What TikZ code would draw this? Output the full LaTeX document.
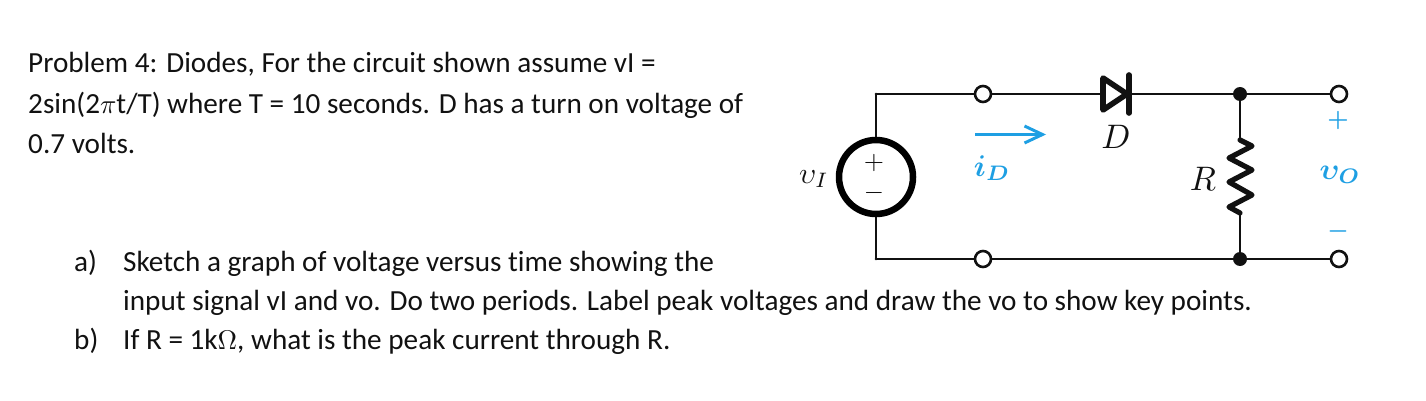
\documentclass[tikz,border=0pt]{standalone}
\usepackage{amsmath}
\usepackage{amssymb}
\usepackage{tkz-euclide}
\usepackage{xcolor}
\usepackage{fontspec}
\setmainfont[Ligatures=NoCommon]{Carlito}
\usetikzlibrary{arrows.meta}
\definecolor{ibluecol}{HTML}{1E9FE3}
\definecolor{inkcol}{HTML}{111111}
\newcommand{\txtsym}[1]{\scalebox{2.7}{\normalsize$#1$}}
\tikzset{
    txt/.style={anchor=base west,inner sep=0pt,text=inkcol,font=\fontsize{29.2}{32}\selectfont},
    lbl/.style={inner sep=0pt,text=inkcol,scale=3.4},
    sgn/.style={inner sep=0pt,text=inkcol,scale=2.6},
    blbl/.style={inner sep=0pt,text=ibluecol,scale=3,font=\boldmath},
    bsgn/.style={inner sep=0pt,text=ibluecol,scale=2.4,font=\boldmath},
    wire/.style={line width=2.8pt,color=inkcol},
}
\begin{document}
\begin{tikzpicture}[x=1pt,y=1pt]
    \useasboundingbox (0,0) rectangle (1426,400);
    \tkzDefPoint(876,306){A}
    \tkzDefPoint(876,141){B}
    \tkzDefPoint(1240,306){C}
    \tkzDefPoint(1240,141){E}
    \tkzDefPoint(1339,306){F}
    \tkzDefPoint(1339,141){G}
    \tkzDefPoint(983,306){H}
    \tkzDefPoint(983,141){J}
    \tkzDefPoint(876,223){S}
    \tkzDefPoint(876,260){T}
    \tkzDrawSegments[wire](A,F B,G A,B)
    \tkzDrawSegment[wire](C,E)
    % source
    \tkzDrawCircle[line width=6.5pt,color=black,fill=white](S,T)
    % resistor
    \fill[white] (1225,260) rectangle (1255,187);
    \draw[line width=5.2pt,color=inkcol,line join=round,line cap=round]
        (1240,260) -- (1252,254) -- (1229,242) -- (1252,230) -- (1229,218)
        -- (1252,205) -- (1229,193) -- (1240,187);
    % diode
    \fill[white] (1103,290) -- (1127,306) -- (1103,322) -- cycle;
    \draw[line width=5.6pt,color=inkcol,line join=round]
        (1103,322) -- (1127,306) -- (1103,290) -- cycle;
    \draw[line width=5.6pt,color=inkcol,line cap=round] (1129,325) -- (1129,287);
    % terminals
    \foreach \p in {J,H,G,F}
        \node[circle,draw=inkcol,fill=white,line width=2.6pt,minimum size=16pt,inner sep=0pt] (t\p) at (\p) {};
    \foreach \p in {C,E}
        \node[circle,fill=inkcol,minimum size=14pt,inner sep=0pt] (d\p) at (\p) {};
    % text
    \node[txt] (lineA) at (28,327) {Problem 4: Diodes, For the circuit shown assume vI =};
    \node[txt] (lineB) at (28,287) {2sin(2\txtsym{\pi}t/T) where T = 10 seconds. D has a turn on voltage of};
    \node[txt] (lineC) at (28,247) {0.7 volts.};
    \node[txt] (itemA) at (74,129) {a)};
    \node[txt] (lineD) at (123,129) {Sketch a graph of voltage versus time showing the};
    \node[txt] (lineE) at (123,90) {input signal vI and vo. Do two periods. Label peak voltages and draw the vo to show key points.};
    \node[txt] (itemB) at (74,51) {b)};
    \node[txt] (lineF) at (123,51) {If R = 1k\txtsym{\Omega}, what is the peak current through R.};
    % labels
    \node[lbl,scale=.88] (vi) at (814,221) {$\upsilon_I$};
    \node[sgn] (pl) at (874,237) {$+$};
    \node[sgn] (mi) at (874,207) {$-$};
    \node[lbl] (d) at (1116,263) {$D$};
    \node[lbl] (r) at (1203,221) {$R$};
    \coordinate (ia) at (975,265.5);
    \coordinate (ib) at (1046,265.5);
    \draw[ibluecol,line width=3pt,-{Straight Barb[length=18pt,width=17pt]}] (ia) -- (ib);
    \node[blbl] (id) at (992,232) {$i_D$};
    \node[bsgn] (po) at (1338,280) {$+$};
    \node[blbl] (vo) at (1340,225) {$\upsilon_O$};
    \node[bsgn] (mo) at (1338,169) {$-$};
\end{tikzpicture}
\end{document}
